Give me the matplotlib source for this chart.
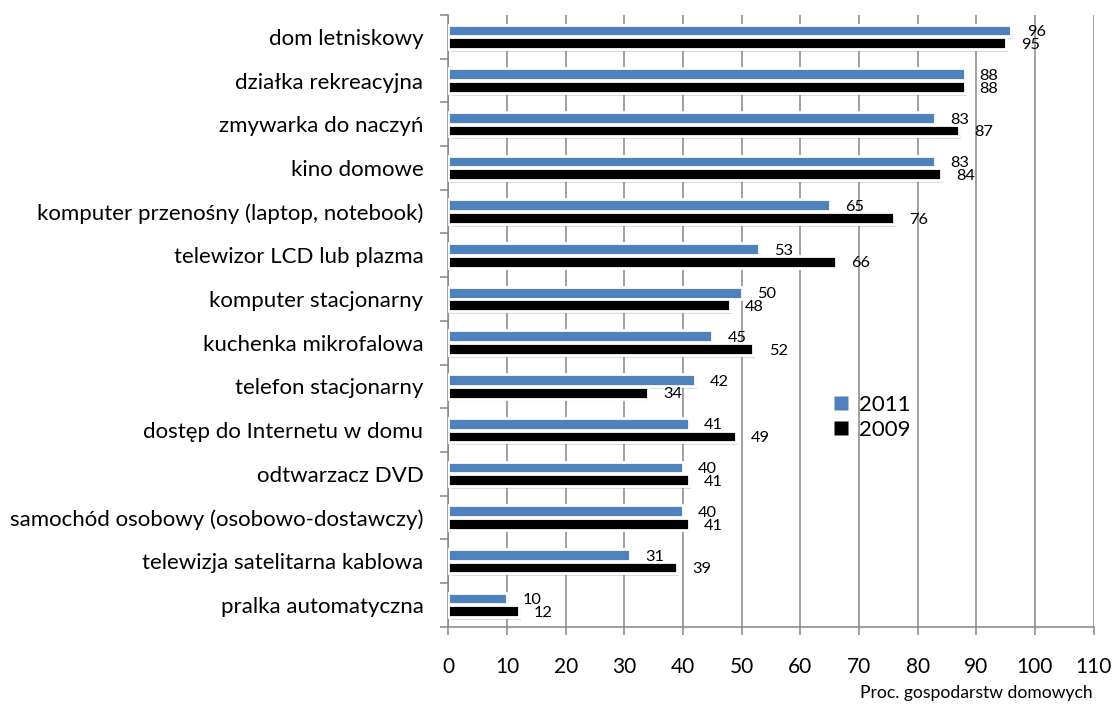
import matplotlib
matplotlib.use("Agg")
import matplotlib.pyplot as plt
import matplotlib.patheffects as pe
from matplotlib.lines import Line2D
import numpy as np

categories = [
    "dom letniskowy",
    "działka rekreacyjna",
    "zmywarka do naczyń",
    "kino domowe",
    "komputer przenośny (laptop, notebook)",
    "telewizor LCD lub plazma",
    "komputer stacjonarny",
    "kuchenka mikrofalowa",
    "telefon stacjonarny",
    "dostęp do Internetu w domu",
    "odtwarzacz DVD",
    "samochód osobowy (osobowo-dostawczy)",
    "telewizja satelitarna kablowa",
    "pralka automatyczna",
]
values_2011 = [96, 88, 83, 83, 65, 53, 50, 45, 42, 41, 40, 40, 31, 10]
values_2009 = [95, 88, 87, 84, 76, 66, 48, 52, 34, 49, 41, 41, 39, 12]
series_names = ["2011", "2009"]
x_ticks = [0, 10, 20, 30, 40, 50, 60, 70, 80, 90, 100, 110]
x_label = "Proc. gospodarstw domowych"

FONT = ["Lato", "DejaVu Sans"]
plt.rcParams["font.family"] = FONT

BLUE = "#4F81BD"
BLACK = "#000000"
GRID = "#868686"

fig = plt.figure(figsize=(11.13, 7.05), dpi=100)
ax = fig.add_axes([448.5 / 1113, 78.3 / 705, (1093.5 - 448.5) / 1113, (690 - 78.3) / 705])

y = np.arange(len(categories))
h = 0.27
off = 0.145

shadow = [pe.SimplePatchShadow(offset=(1.5, -2.0), shadow_rgbFace="#909090", alpha=0.3), pe.Normal()]
b1 = ax.barh(y - off, values_2011, height=h, color=BLUE, edgecolor="white", linewidth=2.0, zorder=3)
b2 = ax.barh(y + off, values_2009, height=h, color=BLACK, edgecolor="white", linewidth=2.0, zorder=3)
for p in list(b1) + list(b2):
    p.set_path_effects(shadow)

for yi, v in zip(y, values_2011):
    ax.text(v + 2.6, yi - off + 0.04, str(v), va="center", ha="left", fontsize=11.8, zorder=5)
for yi, v in zip(y, values_2009):
    ax.text(v + 2.6, yi + off + 0.04, str(v), va="center", ha="left", fontsize=11.8, zorder=5)

ax.set_xlim(0, 110)
ax.set_ylim(len(categories) - 0.5, -0.5)
ax.set_xticks(x_ticks)
ax.set_xticklabels([str(t) for t in x_ticks], fontsize=15)
ax.tick_params(axis="x", direction="out", length=6, width=1.1, color=GRID, pad=16)

ax.set_yticks(np.arange(-0.5, len(categories), 1.0))
ax.set_yticklabels([])
ax.set_yticks(y, minor=True)
ax.set_yticklabels(categories, minor=True, fontsize=16)
ax.tick_params(axis="y", which="major", direction="out", length=6, width=1.1, color=GRID)
ax.tick_params(axis="y", which="minor", length=0, pad=18)

ax.xaxis.grid(True, color=GRID, linewidth=1.1, zorder=0)
ax.set_axisbelow(True)
for s in ["top", "right"]:
    ax.spines[s].set_visible(False)
for s in ["left", "bottom"]:
    ax.spines[s].set_color(GRID)
    ax.spines[s].set_linewidth(1.1)

handles = [
    Line2D([], [], marker="s", linestyle="none", markersize=10, markerfacecolor=BLUE, markeredgecolor="none"),
    Line2D([], [], marker="s", linestyle="none", markersize=10, markerfacecolor=BLACK, markeredgecolor="none"),
]
ax.legend(handles, series_names, loc="upper left", bbox_to_anchor=(0.578, 0.393), frameon=False,
          fontsize=16, handletextpad=0.3, labelspacing=0.2, handlelength=1.0, borderaxespad=0)

fig.text(1093 / 1113, 12 / 705, x_label, ha="right", va="center", fontsize=12.6)

fig.savefig("out.png", dpi=100)
